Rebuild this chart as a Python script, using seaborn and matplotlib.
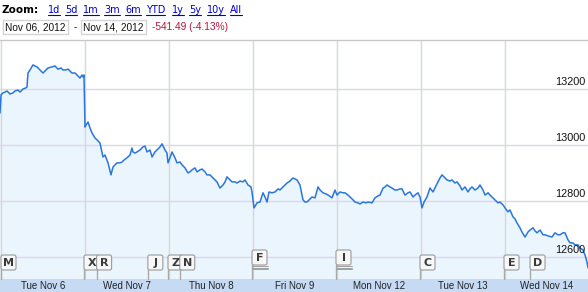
import numpy as np
import pandas as pd
import matplotlib
matplotlib.use('Agg')
import matplotlib.pyplot as plt
import matplotlib.transforms as mtransforms
from matplotlib.lines import Line2D
from matplotlib.patches import Rectangle, FancyBboxPatch
import seaborn as sns

# trading time, in sessions since the Nov 6 open
t = [0.000, 0.012, 0.036, 0.060, 0.083, 0.119, 0.155, 0.179, 0.214, 0.238,
     0.274, 0.310, 0.321, 0.333, 0.357, 0.393, 0.417, 0.440, 0.476, 0.512,
     0.548, 0.571, 0.619, 0.655, 0.690, 0.726, 0.750, 0.786, 0.810, 0.857,
     0.893, 0.917, 0.952, 0.976, 0.988, 1.000, 1.012, 1.024, 1.048, 1.071,
     1.095, 1.131, 1.155, 1.190, 1.226, 1.250, 1.286, 1.321, 1.345, 1.369,
     1.393, 1.429, 1.452, 1.476, 1.512, 1.548, 1.571, 1.583, 1.607, 1.631,
     1.667, 1.702, 1.726, 1.750, 1.786, 1.810, 1.845, 1.869, 1.905, 1.929,
     1.964, 1.988, 2.000, 2.024, 2.048, 2.083, 2.107, 2.143, 2.167, 2.202,
     2.238, 2.262, 2.286, 2.321, 2.345, 2.381, 2.405, 2.440, 2.464, 2.500,
     2.524, 2.560, 2.583, 2.619, 2.655, 2.679, 2.702, 2.738, 2.762, 2.798,
     2.821, 2.857, 2.893, 2.917, 2.952, 2.988, 3.000, 3.024, 3.060, 3.095,
     3.131, 3.155, 3.179, 3.202, 3.238, 3.274, 3.310, 3.333, 3.369, 3.417,
     3.452, 3.488, 3.536, 3.571, 3.595, 3.607, 3.631, 3.655, 3.690, 3.714,
     3.750, 3.786, 3.810, 3.845, 3.881, 3.905, 3.952, 3.988, 4.012, 4.048,
     4.083, 4.107, 4.143, 4.167, 4.202, 4.226, 4.262, 4.286, 4.321, 4.357,
     4.381, 4.429, 4.464, 4.500, 4.524, 4.560, 4.583, 4.607, 4.643, 4.667,
     4.702, 4.726, 4.762, 4.786, 4.821, 4.857, 4.881, 4.917, 4.940, 4.976,
     5.000, 5.024, 5.048, 5.083, 5.119, 5.155, 5.190, 5.214, 5.238, 5.262,
     5.298, 5.321, 5.357, 5.381, 5.417, 5.440, 5.476, 5.500, 5.536, 5.571,
     5.595, 5.619, 5.655, 5.690, 5.714, 5.750, 5.774, 5.810, 5.833, 5.857,
     5.893, 5.929, 5.952, 5.988, 6.012, 6.048, 6.071, 6.107, 6.131, 6.155,
     6.190, 6.214, 6.250, 6.286, 6.310, 6.345, 6.369, 6.393, 6.429, 6.464,
     6.488, 6.524, 6.571, 6.607, 6.643, 6.667, 6.702, 6.726, 6.762, 6.786,
     6.821, 6.845, 6.881, 6.905, 6.940, 6.964, 6.988, 7.000]

price = [13114, 13179, 13186, 13189, 13193, 13182, 13186, 13193, 13196, 13189,
         13200, 13204, 13207, 13257, 13268, 13286, 13282, 13279, 13268, 13257,
         13268, 13275, 13279, 13282, 13271, 13275, 13268, 13268, 13271, 13257,
         13257, 13250, 13239, 13250, 13243, 13250, 13064, 13071, 13082, 13061,
         13043, 13025, 13018, 13007, 12957, 12964, 12936, 12893, 12921, 12929,
         12936, 12936, 12939, 12946, 12954, 12964, 12989, 12975, 12971, 12975,
         12982, 12993, 12996, 12975, 12982, 12957, 12975, 12982, 12993, 13004,
         12982, 12971, 12936, 12954, 12975, 12954, 12936, 12939, 12929, 12918,
         12900, 12904, 12911, 12918, 12904, 12911, 12914, 12904, 12893, 12893,
         12886, 12875, 12868, 12846, 12857, 12868, 12886, 12875, 12868, 12868,
         12864, 12871, 12868, 12875, 12857, 12850, 12832, 12775, 12793, 12796,
         12829, 12814, 12796, 12832, 12829, 12832, 12843, 12839, 12850, 12864,
         12871, 12882, 12875, 12857, 12821, 12804, 12796, 12796, 12807, 12814,
         12811, 12850, 12839, 12829, 12825, 12821, 12811, 12839, 12821, 12832,
         12829, 12829, 12821, 12814, 12804, 12796, 12793, 12789, 12796, 12793,
         12796, 12793, 12811, 12818, 12821, 12846, 12850, 12857, 12850, 12846,
         12839, 12839, 12843, 12843, 12821, 12829, 12832, 12814, 12821, 12829,
         12814, 12775, 12796, 12814, 12846, 12832, 12854, 12868, 12882, 12893,
         12882, 12875, 12871, 12875, 12864, 12868, 12854, 12839, 12850, 12832,
         12843, 12850, 12839, 12846, 12857, 12839, 12821, 12829, 12821, 12814,
         12804, 12793, 12796, 12786, 12775, 12761, 12768, 12743, 12736, 12721,
         12704, 12689, 12671, 12689, 12696, 12704, 12693, 12686, 12696, 12679,
         12679, 12675, 12671, 12686, 12679, 12679, 12686, 12686, 12661, 12650,
         12650, 12643, 12643, 12632, 12625, 12607, 12582, 12561]

days = ['Tue Nov 6', 'Wed Nov 7', 'Thu Nov 8', 'Fri Nov 9',
        'Mon Nov 12', 'Tue Nov 13', 'Wed Nov 14']
yticks = [12600, 12800, 13000, 13200]

flag_letters = ['M', 'X', 'R', 'J', 'Z', 'N', 'F', 'I', 'C', 'E', 'D']
flag_pos = [0.0, 1.0, 1.15, 1.76, 2.0, 2.14, 3.0, 4.0, 5.0, 6.0, 6.31]
flag_stacked = [False, False, False, False, False, False, True, True, False, False, False]

zoom_links = ['1d', '5d', '1m', '3m', '6m', 'YTD', '1y', '5y', '10y', 'All']
start_date = 'Nov 06, 2012'
end_date = 'Nov 14, 2012'
change = '-541.49 (-4.13%)'

W, H = 588, 292
sns.set_style('white')
plt.rcParams['font.family'] = ['Liberation Sans', 'DejaVu Sans']

fig = plt.figure(figsize=(W / 100, H / 100), dpi=100)
ident = mtransforms.IdentityTransform()

# chart area: 40px from top down to the date band at 279px
ax = fig.add_axes([0, 13 / H, 1, 239 / H])
df = pd.DataFrame({'t': t, 'price': price})
ax.fill_between(df['t'], df['price'], 12000, color='#ebf5fe', lw=0, zorder=1)
sns.lineplot(data=df, x='t', y='price', ax=ax, color='#2a76da', lw=1.1, zorder=4)
ax.set_xlim(0, 7)
ax.set_ylim(12521, 13375)
for v in yticks:
    ax.axhline(v, color='#d8d8ea', lw=1, zorder=2)
for d in range(7):
    ax.axvline(d + 0.006, color='#d3d9d3', lw=1, zorder=2)
ax.set_xticks([])
ax.set_yticks([])
ax.set_xlabel('')
ax.set_ylabel('')
for s in ax.spines.values():
    s.set_visible(False)
ax.spines['top'].set_visible(True)
ax.spines['top'].set_color('#c8c8c8')
ax.spines['top'].set_linewidth(1)

yt = mtransforms.blended_transform_factory(ax.transAxes, ax.transData)
for v in yticks:
    ax.text(0.996, v + 8, str(v), transform=yt, ha='right', va='bottom',
            fontsize=7.8, color='#111111', zorder=6)

# date band at the bottom
fig.add_artist(Rectangle((0, 0), W, 13, transform=ident, fc='#c6daf3', ec='none'))
for i, d in enumerate(days):
    fig.text(i * 84 + 43, 6, d, transform=ident, ha='center', va='center',
             fontsize=7, color='#222222')

# news flags
for letter, pos, stacked in zip(flag_letters, flag_pos, flag_stacked):
    x0 = ax.transData.transform((pos, 13000))[0]
    x0 = max(x0, 1)
    ybot = 27 if stacked else 22
    fig.add_artist(Line2D([x0, x0], [13, ybot], transform=ident, color='#a9a9a9', lw=1))
    if stacked:
        for k in (1, 2, 3):
            fig.add_artist(Line2D([x0, x0 + 16], [ybot - 1.4 * k] * 2, transform=ident,
                                  color='#a0a0a0', lw=0.7))
    fig.add_artist(FancyBboxPatch((x0, ybot), 15, 15, boxstyle='round,pad=0,rounding_size=2',
                                  transform=ident, fc='#f7f7f7', ec='#9a9a9a', lw=0.8))
    fig.text(x0 + 7.8, ybot + 7.3, letter, transform=ident, ha='center', va='center',
             fontsize=8, fontweight='bold', family='DejaVu Sans', color='#3a3a3a')

# header
fig.text(2, H - 13, 'Zoom:', transform=ident, ha='left', va='baseline',
         fontsize=7.5, fontweight='bold', family='DejaVu Sans', color='#000000')
link_x = [48, 65, 83, 104, 125, 146, 172, 189, 207, 230]
renderer = fig.canvas.get_renderer()
for lx, lab in zip(link_x, zoom_links):
    txt = fig.text(lx, H - 13, lab, transform=ident, ha='left', va='baseline',
                   fontsize=7, family='DejaVu Sans', color='#0000cc')
    bb = txt.get_window_extent(renderer)
    fig.add_artist(Line2D([bb.x0, bb.x1], [H - 14.5] * 2, transform=ident,
                          color='#0000cc', lw=0.8))

for bx0, bx1, lab in [(3, 68, start_date), (81, 146, end_date)]:
    fig.add_artist(Rectangle((bx0, H - 34), bx1 - bx0, 14, transform=ident,
                             fc='white', ec='#d4d4d4', lw=1))
    fig.text((bx0 + bx1) / 2, H - 27, lab, transform=ident, ha='center', va='center',
             fontsize=7.3, color='#111111')
fig.text(75, H - 27, '-', transform=ident, ha='center', va='center', fontsize=7.3, color='#111111')
fig.text(152, H - 27, change, transform=ident, ha='left', va='center',
         fontsize=7.3, color='#b5163c')

fig.savefig('out.png', dpi=100)
